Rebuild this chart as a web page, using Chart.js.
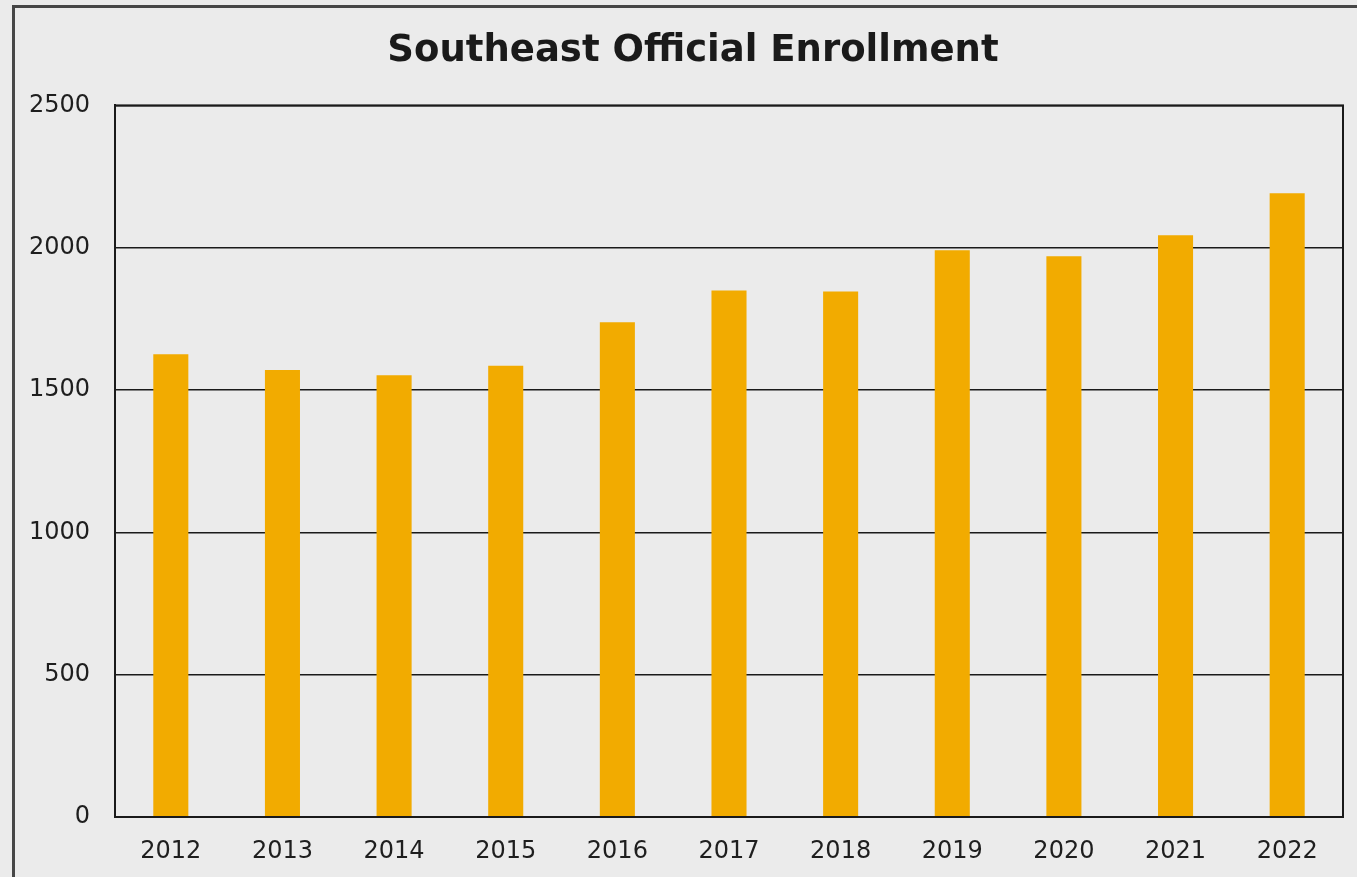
<!DOCTYPE html>
<html>
<head>
<meta charset="utf-8">
<script src="https://cdn.jsdelivr.net/npm/chart.js@4"></script>
<style>
  html, body { margin: 0; padding: 0; background: #ebebeb; overflow: hidden; }
  #frame { position: absolute; left: 12px; top: 5px; width: 1400px; height: 900px; border: 3px solid #464646; pointer-events: none; }
  #wrap { position: absolute; left: 0; top: 0; width: 1357px; height: 877px; }
</style>
</head>
<body>
<div id="frame"></div>
<div id="wrap"><canvas id="myChart"></canvas></div>
<script>
// enrollment by year
var years = ['2012', '2013', '2014', '2015', '2016', '2017', '2018', '2019', '2020', '2021', '2022']
var enrollment = [1626, 1570, 1552, 1585, 1738, 1850, 1846, 1991, 1970, 2044, 2191]
var yTicks = [0, 500, 1000, 1500, 2000, 2500]

var barColor = '#f2ab00'
var textColor = '#1e1e1e'

// box round the plot area, and nudge the title so it sits where the original one does
const plotBox = {
  id: 'plotBox',
  afterLayout(chart) {
    if (chart.titleBlock) chart.titleBlock.left = 43
  },
  afterDraw(chart) {
    const a = chart.chartArea
    const ctx = chart.ctx
    ctx.save()
    ctx.strokeStyle = '#1a1a1a'
    ctx.lineWidth = 2
    ctx.strokeRect(a.left, a.top, a.right - a.left, a.bottom - a.top)
    ctx.restore()
  }
}

const data = {
  labels: years,
  datasets: [{
    label: 'Enrollment',
    backgroundColor: barColor,
    data: enrollment,
    categoryPercentage: 1,
    barPercentage: 0.314
  }]
}

const config = {
  type: 'bar',
  data: data,
  plugins: [plotBox],
  options: {
    responsive: false,
    animation: false,
    layout: { padding: { left: 0, right: 14, top: 0, bottom: 0 } },
    plugins: {
      legend: { display: false },
      tooltip: { enabled: false },
      title: {
        display: true,
        text: 'Southeast Official Enrollment',
        color: '#1a1a1a',
        font: { family: 'DejaVu Sans', size: 37, weight: 'bold' },
        padding: { top: 29, bottom: 32 }
      }
    },
    scales: {
      x: {
        grid: { display: false },
        border: { display: true, color: '#1a1a1a', width: 2 },
        ticks: { color: textColor, font: { family: 'DejaVu Sans', size: 24 }, padding: 12, maxRotation: 0 },
        afterFit: function (s) { s.height = 60 }
      },
      y: {
        min: 0,
        max: 2500,
        afterBuildTicks: function (s) { s.ticks = yTicks.map(v => ({ value: v })) },
        grid: { color: '#1a1a1a', lineWidth: 1.5, drawTicks: false },
        border: { display: true, color: '#1a1a1a', width: 2 },
        ticks: {
          color: textColor,
          font: { family: 'DejaVu Sans', size: 24 },
          padding: 25,
          callback: v => String(v)
        },
        afterFit: function (s) { s.width = 115 }
      }
    }
  }
}

const canvas = document.getElementById('myChart')
canvas.width = 1357
canvas.height = 877
const myChart = new Chart(canvas, config)
</script>
</body>
</html>
